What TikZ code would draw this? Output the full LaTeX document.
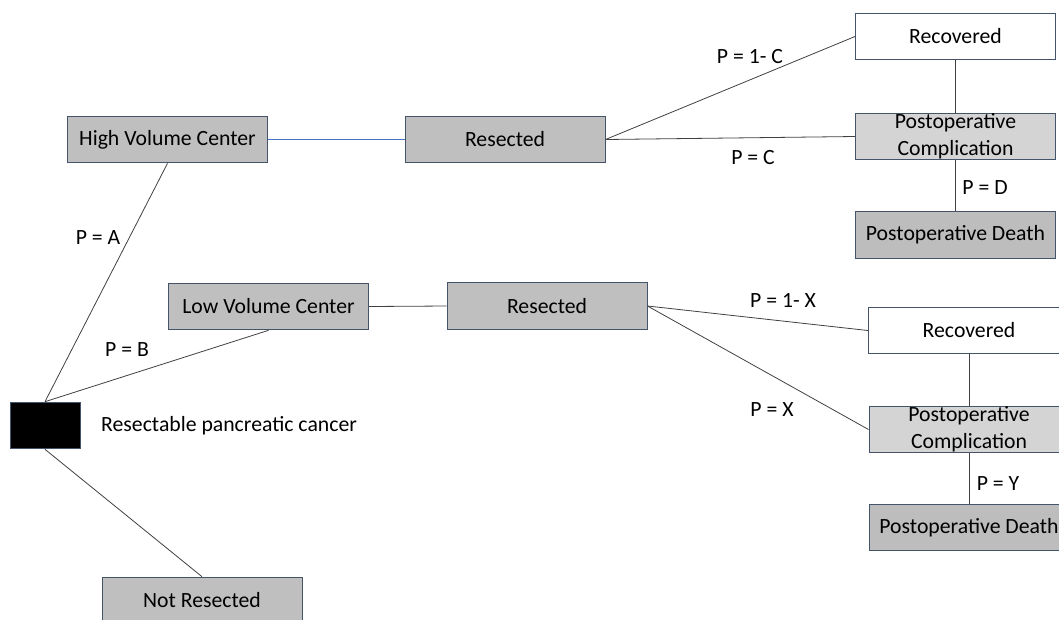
\documentclass[tikz,border=0pt]{standalone}
\usepackage{fontspec}
\setmainfont{Carlito}
\usetikzlibrary{positioning}
\definecolor{boxline}{HTML}{44546A}
\definecolor{boxgray}{HTML}{BFBFBF}
\definecolor{compgray}{HTML}{D4D4D4}
\definecolor{deathgray}{HTML}{BDBDBD}
\definecolor{linkblue}{HTML}{4472C4}
\definecolor{linkgray}{HTML}{404040}

\begin{document}
\begin{tikzpicture}[x=0.75pt, y=-0.75pt,
      every node/.append style={font=\fontsize{16.3}{19}\selectfont}]
    \tikzstyle{box} = [draw=boxline, line width=0.75pt, minimum width=150pt, minimum height=35pt, inner sep=0pt, align=center]
    \tikzstyle{choice} = [box, fill=boxgray]
    \tikzstyle{outcome} = [box, fill=white]
    \tikzstyle{complication} = [box, fill=compgray, font=\fontsize{16.3}{20.2}\selectfont]
    \tikzstyle{death} = [box, fill=deathgray]
    \tikzstyle{link} = [draw=linkgray, line width=0.6pt]
    \useasboundingbox (0,0) rectangle (1059,619);
    % decision node
    \node (root) [box, fill=black, minimum width=52.5pt] at (45,425.5) {};
    \node (rootlabel) [right=12pt of root] {Resectable pancreatic cancer};
    % high volume branch
    \node (hvc) [choice] at (167.5,139.5) {High Volume Center};
    \node (hvres) [choice] at (505,139.5) {Resected};
    \node (hvrec) [outcome] at (955.5,36.5) {Recovered};
    \node (hvcomp) [complication] at (955.5,136.5) {Postoperative\\Complication};
    \node (hvdeath) [death] at (955.5,235) {Postoperative Death};
    % low volume branch
    \node (lvc) [choice] at (268.5,306.5) {Low Volume Center};
    \node (lvres) [choice] at (547,306) {Resected};
    \node (lvrec) [outcome, minimum width=151pt] at (969,330.5) {Recovered};
    \node (lvcomp) [complication] at (969,429.5) {Postoperative\\Complication};
    \node (lvdeath) [death] at (969,527.5) {Postoperative Death};
    \node (notres) [choice] at (202,600.5) {Not Resected};
    % probabilities
    \node (pA) at (98,238) {P = A};
    \node (pB) at (127,350) {P = B};
    \node (pC1) at (750,57) {P = 1- C};
    \node (pC) at (753,158) {P = C};
    \node (pD) at (985,188) {P = D};
    \node (pX1) at (783,300) {P = 1- X};
    \node (pX) at (772,410) {P = X};
    \node (pY) at (998,484) {P = Y};
    % connectors
    \draw[link] (hvc.south) -- (root.north);
    \draw[link] (lvc.south) -- (root.north);
    \draw[link] (root.south) -- (notres.north);
    \draw[link, draw=linkblue, line width=0.75pt] (hvc.east) -- (hvres.west);
    \draw[link] (hvres.east) -- (hvrec.west);
    \draw[link] (hvres.east) -- (hvcomp.west);
    \draw[link] (hvrec.south) -- (hvcomp.north);
    \draw[link] (hvcomp.south) -- (hvdeath.north);
    \draw[link] (lvc.east) -- (lvres.west);
    \draw[link] (lvres.east) -- (lvrec.west);
    \draw[link] (lvres.east) -- (lvcomp.west);
    \draw[link] (lvrec.south) -- (lvcomp.north);
    \draw[link] (lvcomp.south) -- (lvdeath.north);
\end{tikzpicture}
\end{document}
